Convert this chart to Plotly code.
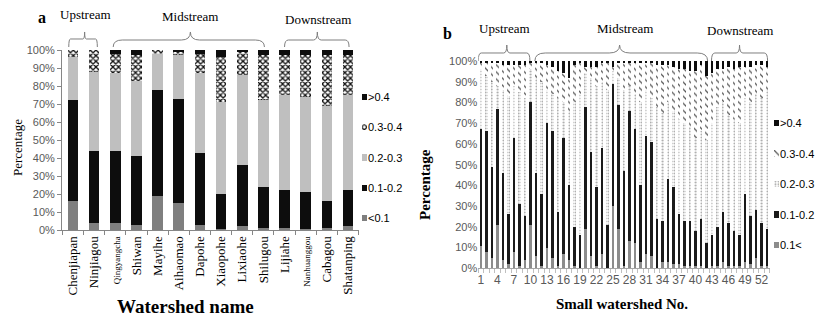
import plotly.graph_objects as go

W, H = 817, 324

# ---------------- Data: panel a ----------------
names_a = ["Chenjiapan", "Ninjiagou", "Qingyangcha", "Shiwan", "Mayihe", "Aihaomao",
           "Dapohe", "Xiaopohe", "Lixiaohe", "Shilugou", "Lijiahe", "Nanhuanggou",
           "Cabagou", "Shatanping"]
a_lt01 = [16, 4, 4, 3, 19, 15, 3, 0.5, 2, 1, 1, 0.5, 1, 2]
a_01_02 = [56, 40, 40, 38, 59, 58, 40, 19.5, 34, 23, 21, 20.5, 15, 20]
a_02_03 = [24, 44, 43, 42, 20, 24, 44, 51, 50, 48, 53, 53, 53, 53]
a_03_04 = [4, 12, 11, 14, 2, 2, 11, 25, 13, 25, 22, 23, 28, 22]
a_gt04 = [0, 0, 2, 3, 0, 1, 2, 4, 1, 3, 3, 3, 3, 3]

# ---------------- Data: panel b ----------------
b_no = list(range(1, 54))
b_lt01 = [11, 8, 5, 21, 4, 2, 8, 1, 4, 21, 6, 1, 10, 5, 1, 7, 4, 1, 0, 19,
          6, 1, 7, 0, 30, 19, 1, 13, 12, 3, 7, 6, 0, 3, 3, 2, 2, 1, 1, 1,
          1, 0, 1, 1, 3, 1, 1, 1, 3, 2, 5, 1, 1]
b_01_02 = [56, 58, 44, 56, 42, 24, 55, 30, 21, 59, 40, 35, 60, 61, 26, 56, 36, 19, 16, 59,
           50, 38, 51, 21, 59, 60, 46, 63, 55, 37, 57, 55, 24, 20, 40, 37, 24, 22, 22, 17,
           23, 12, 15, 19, 24, 21, 17, 15, 33, 23, 23, 21, 18]
b_02_03 = [29, 27, 41, 11, 40, 57, 25, 54, 57, 16, 46, 54, 16, 18, 55, 17, 36, 60, 68, 16,
           36, 49, 32, 65, 6, 13, 39, 12, 17, 40, 22, 21, 54, 52, 37, 37, 46, 47, 45, 45,
           42, 50, 54, 58, 53, 52, 54, 54, 46, 55, 56, 60, 67]
b_03_04 = [3.5, 6, 9, 11, 12, 15, 10, 13, 16, 3, 7, 9, 12, 13, 13, 14, 16, 18, 15, 3,
           5, 9, 9, 13, 2, 7, 13, 11, 15, 19, 13, 17, 20, 23, 18, 21, 24, 26, 27, 32,
           32, 31, 24, 18, 16, 23, 24, 27, 15, 17, 14, 16, 11]
b_gt04 = [0.5, 1, 1, 1, 2, 2, 2, 2, 2, 1, 1, 1, 2, 3, 5, 6, 8, 2, 1, 3,
          3, 3, 1, 1, 3, 1, 1, 1, 1, 1, 1, 1, 2, 2, 2, 3, 4, 4, 5, 5,
          2, 7, 6, 4, 4, 3, 4, 3, 3, 3, 2, 2, 3]
b_ticks = list(range(1, 53, 3))

# legend labels, bottom series first
legend_a = ["&lt;0.1", "0.1-0.2", "0.2-0.3", "0.3-0.4", ">0.4"]
legend_b = ["0.1&lt;", "0.1-0.2", "0.2-0.3", "0.3-0.4", ">0.4"]


def px(x):
    return x / W


def py(y):
    return 1 - y / H


SERIF = "Liberation Serif, Times New Roman, serif"
SANS = "Liberation Sans Narrow, Liberation Sans, Arial, sans-serif"
TICKC = "#595959"

markers_a = [
    dict(color="#7f7f7f"),
    dict(color="#0d0d0d"),
    dict(color="#bfbfbf"),
    dict(color="white", pattern=dict(shape="x", fgcolor="#111111", bgcolor="white",
                                     size=4, solidity=0.55, fillmode="replace")),
    dict(color="#0d0d0d"),
]
markers_b = [
    dict(color="#8c8c8c"),
    dict(color="#1a1a1a"),
    dict(color="white", pattern=dict(shape=".", fgcolor="#a6a6a6", bgcolor="white",
                                     size=3, solidity=0.35, fillmode="replace")),
    dict(color="white", pattern=dict(shape="\\", fgcolor="#555555", bgcolor="white",
                                     size=5, solidity=0.25, fillmode="replace")),
    dict(color="#0d0d0d"),
]

fig = go.Figure()
xa = list(range(len(names_a)))
series_a = [a_lt01, a_01_02, a_02_03, a_03_04, a_gt04]
series_b = [b_lt01, b_01_02, b_02_03, b_03_04, b_gt04]

for vals, nm, mk in zip(series_a, legend_a, markers_a):
    m = dict(mk, line=dict(width=0))
    fig.add_trace(go.Bar(x=xa, y=vals, name=nm, marker=m, xaxis="x", yaxis="y",
                         width=0.5, showlegend=False))
for vals, nm, mk in zip(series_b, legend_b, markers_b):
    m = dict(mk, line=dict(width=0))
    fig.add_trace(go.Bar(x=b_no, y=vals, name=nm, marker=m, xaxis="x2", yaxis="y2",
                         width=0.5, showlegend=False))

# legend swatches drawn as one-bar keys on small helper axes
for nm, mk in zip(legend_a, markers_a):
    m = dict(mk, line=dict(width=0))
    fig.add_trace(go.Bar(y=[nm], x=[1], orientation="h", marker=m, xaxis="x3", yaxis="y3",
                         width=0.2, showlegend=False, hoverinfo="skip"))
for nm, mk in zip(legend_b, markers_b):
    m = dict(mk, line=dict(width=0))
    fig.add_trace(go.Bar(y=[nm], x=[1], orientation="h", marker=m, xaxis="x4", yaxis="y4",
                         width=0.2, showlegend=False, hoverinfo="skip"))

ticktext_a = []
for n in names_a:
    if n in ("Qingyangcha", "Nanhuanggou"):
        ticktext_a.append("<span style='font-size:9px'>%s</span>" % n)
    else:
        ticktext_a.append(n)

hidden_x = dict(range=[0, 100], showticklabels=False, showline=False, ticks="",
                showgrid=False, zeroline=False, automargin=False, fixedrange=True)
hidden_y = dict(showticklabels=False, showline=False, ticks="", showgrid=False,
                zeroline=False, automargin=False, fixedrange=True, categoryorder="array")

fig.update_layout(
    width=W, height=H,
    margin=dict(l=0, r=0, t=0, b=0),
    paper_bgcolor="white", plot_bgcolor="white",
    barmode="stack", barnorm="percent",
    showlegend=False,
    xaxis=dict(domain=[px(62), px(359)], range=[-0.52, 13.52],
               tickmode="array", tickvals=xa, ticktext=ticktext_a, tickangle=-90,
               tickfont=dict(family=SERIF, size=13, color="black"),
               showline=True, linecolor="#868686", linewidth=1, ticks="",
               minor=dict(ticks="outside", tick0=-0.5, dtick=1, ticklen=4, tickcolor="#868686"),
               showgrid=False, zeroline=False, automargin=False, anchor="y"),
    yaxis=dict(domain=[py(230), py(50)], range=[0, 100], dtick=10, ticksuffix="%",
               tickfont=dict(family=SANS, size=11, color=TICKC),
               showline=True, linecolor="#868686", ticks="outside", ticklen=4,
               tickcolor="#868686", showgrid=False, zeroline=False, automargin=False,
               anchor="x"),
    xaxis2=dict(domain=[px(478.2), px(769.8)], range=[0.5, 53.5],
                tickmode="array", tickvals=b_ticks, ticktext=[str(t) for t in b_ticks],
                tickfont=dict(family=SANS, size=12, color=TICKC),
                showline=True, linecolor="#a6a6a6", ticks="",
                minor=dict(ticks="outside", tick0=0.5, dtick=1, ticklen=4, tickcolor="#bfbfbf"),
                showgrid=False, zeroline=False, automargin=False, anchor="y2"),
    yaxis2=dict(domain=[py(268.3), py(61)], range=[0, 100], dtick=10, ticksuffix="%",
                tickfont=dict(family=SANS, size=11, color=TICKC),
                showline=False, ticks="", showgrid=False, zeroline=False,
                automargin=False, anchor="x2"),
    xaxis3=dict(hidden_x, domain=[px(361.5), px(367)], anchor="y3"),
    yaxis3=dict(hidden_y, domain=[py(233.1), py(81.9)], anchor="x3",
                categoryarray=legend_a),
    xaxis4=dict(hidden_x, domain=[px(774), px(779)], anchor="y4"),
    yaxis4=dict(hidden_y, domain=[py(260.25), py(107.75)], anchor="x4",
                categoryarray=legend_b),
)

# legend texts beside the swatches
for nm in legend_a:
    fig.add_annotation(text=nm, x=px(366), y=nm, xref="paper", yref="y3",
                       showarrow=False, xanchor="left", yanchor="middle",
                       font=dict(family=SANS, size=11, color="black"))
for nm in legend_b:
    fig.add_annotation(text=nm, x=px(778), y=nm, xref="paper", yref="y4",
                       showarrow=False, xanchor="left", yanchor="middle",
                       font=dict(family=SANS, size=11, color="black"))


def brace(xref, x0, x1, xm, yb, yt, ytip):
    r = (x1 - x0) * 0.06
    r = min(r, (xm - x0) * 0.4)
    p = ("M %f,%f Q %f,%f %f,%f L %f,%f Q %f,%f %f,%f Q %f,%f %f,%f L %f,%f Q %f,%f %f,%f" % (
        x0, py(yb), x0, py(yt), x0 + r, py(yt),
        xm - r, py(yt), xm, py(yt), xm, py(ytip),
        xm, py(yt), xm + r, py(yt),
        x1 - r, py(yt), x1, py(yt), x1, py(yb)))
    fig.add_shape(type="path", path=p, xref=xref, yref="paper",
                  line=dict(color="#7f7f7f", width=1))


brace("x", -0.2, 1.15, 0.55, 47, 39, 32)
brace("x", 1.9, 9.05, 5.55, 47, 40, 32)
brace("x", 10.0, 13.05, 11.55, 47, 40, 32)

brace("x2", 0.5, 9.9, 5.7, 61, 53, 45)
brace("x2", 10.8, 42.2, 26.2, 61, 53, 45)
brace("x2", 42.9, 53.1, 48.0, 61, 53, 45)

annos = [
    ("<b>a</b>", 42, 17, 16),
    ("Upstream", 85, 15, 13),
    ("Midstream", 190, 16, 13),
    ("Downstream", 318, 19, 13),
    ("<b>b</b>", 447, 33, 16),
    ("Upstream", 504, 29, 13),
    ("Midstream", 625, 29, 13),
    ("Downstream", 740, 31, 13),
    ("<b>Watershed name</b>", 185, 306, 19),
    ("<b>Small watershed No.</b>", 622, 304, 15),
]
for t, x, y, s in annos:
    fig.add_annotation(text=t, x=px(x), y=py(y), xref="paper", yref="paper",
                       showarrow=False, xanchor="center", yanchor="middle",
                       font=dict(family=SERIF, size=s, color="black"))

fig.add_annotation(text="Percentage", x=px(17), y=py(148), xref="paper", yref="paper",
                   showarrow=False, textangle=-90, xanchor="center", yanchor="middle",
                   font=dict(family=SERIF, size=13, color="black"))
fig.add_annotation(text="<b>Percentage</b>", x=px(425), y=py(185), xref="paper", yref="paper",
                   showarrow=False, textangle=-90, xanchor="center", yanchor="middle",
                   font=dict(family=SERIF, size=15, color="black"))

fig.write_html("out.html", config={"displayModeBar": False},
               post_script="document.body.style.margin='0px';document.body.style.padding='0px';")
